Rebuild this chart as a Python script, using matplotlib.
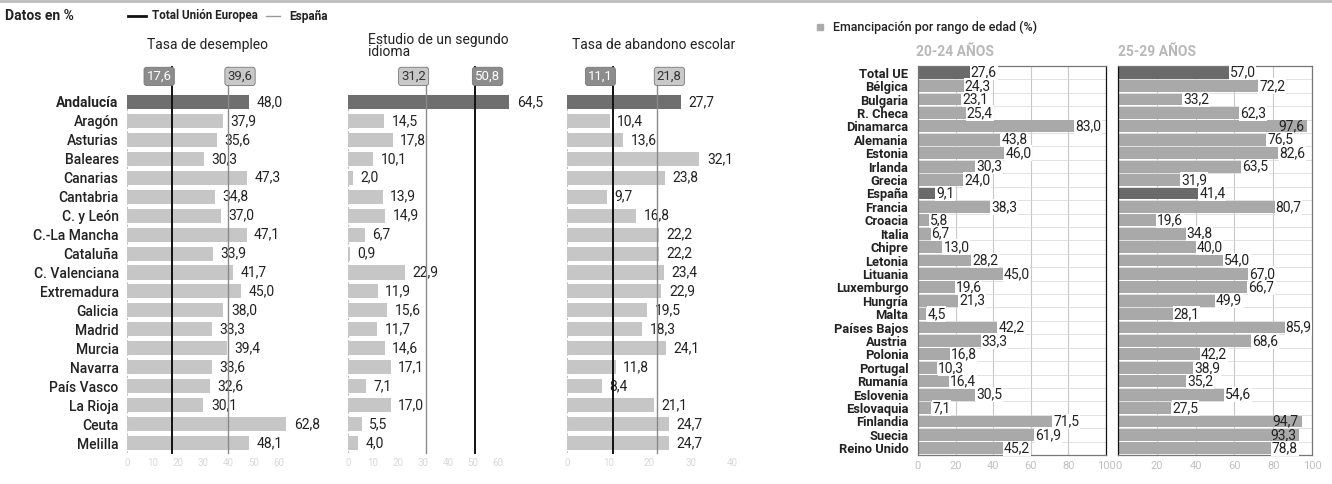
import matplotlib
matplotlib.use("Agg")
import matplotlib.pyplot as plt
from matplotlib.patches import Rectangle
import numpy as np

# datos: comunidades autonomas (jovenes)
regiones = ["Andalucía", "Aragón", "Asturias", "Baleares", "Canarias", "Cantabria",
            "C. y León", "C.-La Mancha", "Cataluña", "C. Valenciana", "Extremadura",
            "Galicia", "Madrid", "Murcia", "Navarra", "País Vasco", "La Rioja",
            "Ceuta", "Melilla"]
desempleo = [48.0, 37.9, 35.6, 30.3, 47.3, 34.8, 37.0, 47.1, 33.9, 41.7, 45.0,
             38.0, 33.3, 39.4, 33.6, 32.6, 30.1, 62.8, 48.1]
idioma = [64.5, 14.5, 17.8, 10.1, 2.0, 13.9, 14.9, 6.7, 0.9, 22.9, 11.9,
          15.6, 11.7, 14.6, 17.1, 7.1, 17.0, 5.5, 4.0]
abandono = [27.7, 10.4, 13.6, 32.1, 23.8, 9.7, 16.8, 22.2, 22.2, 23.4, 22.9,
            19.5, 18.3, 24.1, 11.8, 8.4, 21.1, 24.7, 24.7]
titulos = ["Tasa de desempleo", "Estudio de un segundo\nidioma", "Tasa de abandono escolar"]
ref_ue = [17.6, 50.8, 11.1]
ref_es = [39.6, 31.2, 21.8]

# emancipacion por rango de edad
paises = ["Total UE", "Bélgica", "Bulgaria", "R. Checa", "Dinamarca", "Alemania",
          "Estonia", "Irlanda", "Grecia", "España", "Francia", "Croacia", "Italia",
          "Chipre", "Letonia", "Lituania", "Luxemburgo", "Hungría", "Malta",
          "Países Bajos", "Austria", "Polonia", "Portugal", "Rumanía", "Eslovenia",
          "Eslovaquia", "Finlandia", "Suecia", "Reino Unido"]
edad_20_24 = [27.6, 24.3, 23.1, 25.4, 83.0, 43.8, 46.0, 30.3, 24.0, 9.1, 38.3, 5.8,
              6.7, 13.0, 28.2, 45.0, 19.6, 21.3, 4.5, 42.2, 33.3, 16.8, 10.3, 16.4,
              30.5, 7.1, 71.5, 61.9, 45.2]
edad_25_29 = [57.0, 72.2, 33.2, 62.3, 97.6, 76.5, 82.6, 63.5, 31.9, 41.4, 80.7, 19.6,
              34.8, 40.0, 54.0, 67.0, 66.7, 49.9, 28.1, 85.9, 68.6, 42.2, 38.9, 35.2,
              54.6, 27.5, 94.7, 93.3, 78.8]

W, H = 1332, 484
fig = plt.figure(figsize=(W / 100, H / 100), dpi=100)
plt.rcParams['font.family'] = ['Roboto', 'DejaVu Sans']


def ax_px(x0, y0, x1, y1):
    return fig.add_axes([x0 / W, 1 - y1 / H, (x1 - x0) / W, (y1 - y0) / H])


def txt(x, y, s, **kw):
    kw.setdefault('va', 'center')
    fig.text(x / W, 1 - y / H, s, **kw)


def coma(v):
    return f"{v:.1f}".replace('.', ',')


# cabecera izquierda
txt(5, 16, "Datos en %", fontsize=10, weight='bold', color='#222')
fig.add_artist(plt.Line2D([128 / W, 146 / W], [1 - 16 / H] * 2, color='#111', lw=2))
txt(152, 16, "Total Unión Europea", fontsize=8.4, weight='bold', color='#222')
fig.add_artist(plt.Line2D([266 / W, 280 / W], [1 - 16 / H] * 2, color='#999', lw=1))
txt(289, 16, "España", fontsize=8.6, weight='bold', color='#222')
fig.add_artist(plt.Line2D([0, 1], [1 - 1 / H] * 2, color='#bbbbbb', lw=2))

posiciones = [(127, 292, 65), (348, 513, 66), (567, 732, 40)]
series = [desempleo, idioma, abandono]
tit_x = [147, 368, 572]
y = np.arange(len(regiones))

for k, ((x0, x1, xmax), vals) in enumerate(zip(posiciones, series)):
    ax = ax_px(x0, 92.5, x1, 452.5)
    colores = ['#6f6f6f'] + ['#c6c6c6'] * (len(vals) - 1)
    ax.barh(y, vals, height=0.74, color=colores, zorder=2)
    ax.set_ylim(len(vals) - 0.5, -0.5)
    ax.set_xlim(0, xmax)
    for s in ax.spines.values():
        s.set_visible(False)
    ax.axvline(0, color='#bbbbbb', lw=0.8, ls=(0, (2, 2)), zorder=1)
    for i, v in enumerate(vals):
        ax.text(v + xmax * 0.045, i, coma(v), va='center', ha='left', fontsize=10, color='#222')
    ue, es = ref_ue[k], ref_es[k]
    ax.plot([ue, ue], [len(vals) - 0.5, -1.85], color='#111', lw=1.4, clip_on=False, zorder=3)
    ax.plot([es, es], [len(vals) - 0.5, -1.85], color='#8a8a8a', lw=1.0, clip_on=False, zorder=3)
    for val, fondo, letra in [(ue, '#8c8c8c', 'white'), (es, '#c8c8c8', '#333')]:
        lado = 'right' if val == min(ue, es) else 'left'
        ax.text(val, -1.35, coma(val), ha=lado, va='center', fontsize=9.5, color=letra,
                bbox=dict(boxstyle='round,pad=0.2', fc=fondo, ec='#777', lw=0.6), zorder=4)
    ax.set_xticks(range(0, xmax + 1, 10))
    ax.tick_params(axis='x', length=0, labelsize=7, labelcolor='#d8d8d8', pad=4)
    if k == 0:
        ax.set_yticks(y, regiones)
        ax.tick_params(axis='y', length=0, pad=6, labelsize=10, labelcolor='#222')
        for j, lab in enumerate(ax.get_yticklabels()):
            lab.set_fontweight('bold' if j == 0 else 'medium')
    else:
        ax.set_yticks([])
    txt(tit_x[k], 45 if k != 1 else 46, titulos[k], fontsize=10, color='#222',
        linespacing=0.85)

# panel derecho: emancipacion
bullet = Rectangle((817 / W, 1 - 30 / H), 6 / W, 6 / H, transform=fig.transFigure,
                   color='#aaaaaa')
fig.patches.append(bullet)
txt(833, 27, "Emancipación por rango de edad (%)", fontsize=9, weight='medium', color='#222')
txt(916, 52, "20-24 AÑOS", fontsize=10, weight='bold', color='#b8b8b8')
txt(1118, 52, "25-29 AÑOS", fontsize=10, weight='bold', color='#b8b8b8')

yp = np.arange(len(paises))
for j, ((x0, x1), vals) in enumerate(zip([(918, 1106), (1118, 1312)], [edad_20_24, edad_25_29])):
    ax = ax_px(x0, 66, x1, 455)
    colores = ['#a9a9a9'] * len(vals)
    colores[0] = colores[9] = '#6a6a6a'
    ax.barh(yp, vals, height=0.88, color=colores, zorder=2)
    ax.set_ylim(len(vals) - 0.5, -0.5)
    ax.set_xlim(0, 100)
    for g in [20, 40, 60, 80]:
        ax.axvline(g, color='#c8c8c8', lw=0.8, zorder=1)
    ax.hlines(yp[:-1] + 0.5, 0, 100, color='#d6d6d6', lw=0.5, zorder=1)
    for s in ax.spines.values():
        s.set_color('#777777')
        s.set_linewidth(0.9)
    if j == 0:
        ax.spines['right'].set_color('#111')
    else:
        ax.spines['left'].set_color('#111')
    for i, v in enumerate(vals):
        if v > 90:
            ax.text(v - 1.5, i, coma(v), va='center', ha='right', fontsize=10, color='#222', zorder=4)
        else:
            ax.text(v + 0.5, i, coma(v), va='center', ha='left', fontsize=10, color='#222',
                    bbox=dict(boxstyle='square,pad=0.05', fc='white', ec='none'), zorder=4)
    ax.set_xticks([0, 20, 40, 60, 80, 100])
    ax.tick_params(axis='x', length=0, labelsize=8, labelcolor='#c0c0c0', pad=4)
    if j == 0:
        ax.set_yticks(yp, paises)
        ax.tick_params(axis='y', length=0, pad=7, labelsize=9.3, labelcolor='#222')
        for lab in ax.get_yticklabels():
            lab.set_fontweight('bold')
    else:
        ax.set_yticks([])

fig.savefig("out.png", dpi=100, facecolor='white')
